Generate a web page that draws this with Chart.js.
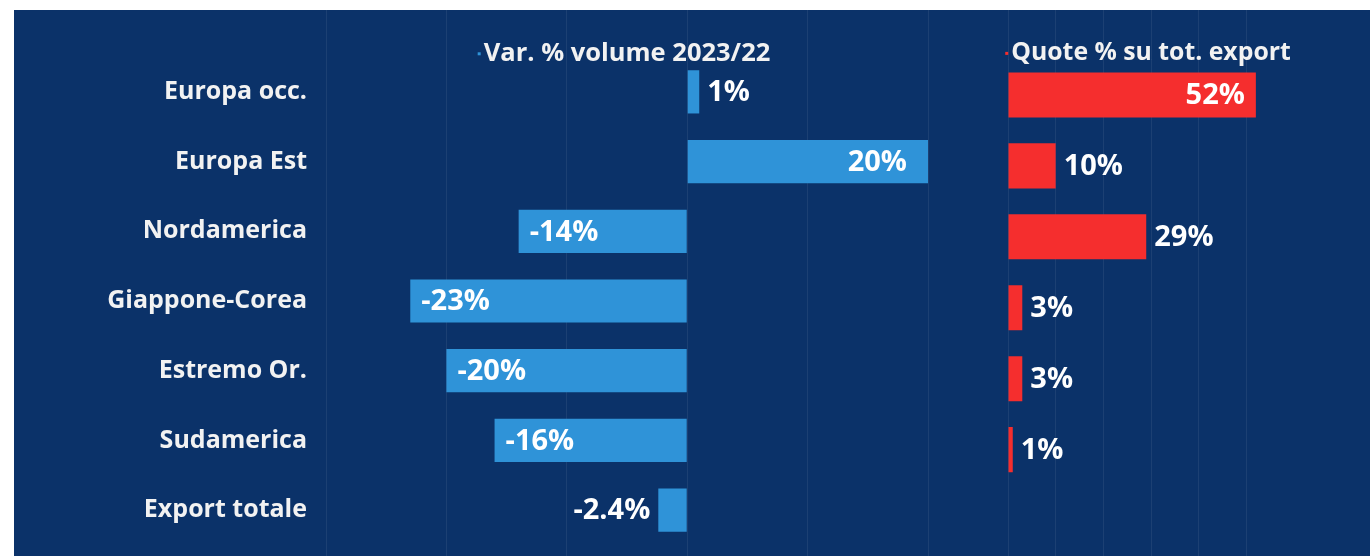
<!DOCTYPE html>
<html>
<head>
<meta charset="utf-8">
<script src="https://cdn.jsdelivr.net/npm/chart.js@4.4.1/dist/chart.umd.min.js"></script>
<style>
  html, body { margin: 0; padding: 0; background: #fff; }
  body { width: 1370px; height: 556px; position: relative; overflow: hidden; }
  #pannello { position: absolute; left: 14px; top: 10px; width: 1356px; height: 546px; background: #0b3269; }
  .box { position: absolute; top: 10px; height: 546px; }
  #boxVar { left: 14px; width: 946px; }
  #boxQuote { left: 960px; width: 410px; }
</style>
</head>
<body>
<div id="pannello"></div>
<div class="box" id="boxVar"><canvas id="graficoVar"></canvas></div>
<div class="box" id="boxQuote"><canvas id="graficoQuote"></canvas></div>

<script>
// DATI
const categorie = ['Europa occ.', 'Europa Est', 'Nordamerica', 'Giappone-Corea', 'Estremo Or.', 'Sudamerica', 'Export totale'];
const varVolume = [1, 20, -14, -23, -20, -16, -2.4];
const quoteExport = [52, 10, 29, 3, 3, 1, null];
const tickVar = [-30, -20, -10, 0, 10, 20];
const tickQuote = [0, 10, 20, 30, 40, 50];

const BLU = '#2f93d8';
const ROSSO = '#f52e2e';
const GRIGLIA = 'rgba(255,255,255,0.07)';
const TESTO = '#f2f2f2';

Chart.defaults.font.family = "'Open Sans', sans-serif";
Chart.defaults.font.weight = 'bold';
Chart.defaults.color = TESTO;

function formatta(v) {
    return (Number.isInteger(v) ? v : v.toFixed(1)) + '%';
}

// etichette valori sulle barre
const etichetteBarre = {
    id: 'etichetteBarre',
    afterDatasetsDraw(chart, args, opts) {
        const ctx = chart.ctx;
        const meta = chart.getDatasetMeta(0);
        const valori = chart.data.datasets[0].data;
        ctx.save();
        ctx.font = "bold 29px 'Open Sans'";
        ctx.fillStyle = '#ffffff';
        ctx.textBaseline = 'middle';
        meta.data.forEach((barra, i) => {
            const v = valori[i];
            if (v === null || v === undefined) return;
            const dir = v >= 0 ? 1 : -1;
            let x;
            if (Math.abs(v) >= opts.dentroDa) {
                ctx.textAlign = dir > 0 ? 'right' : 'left';
                x = barra.x - dir * (dir > 0 ? opts.margineDentro : 11);
            } else {
                ctx.textAlign = dir > 0 ? 'left' : 'right';
                x = barra.x + dir * 8;
            }
            ctx.fillText(formatta(v), x, barra.y + 1);
        });
        ctx.restore();
    }
};

// quadratino colorato davanti al titolo (come la legenda dell'originale)
const marcatoreTitolo = {
    id: 'marcatoreTitolo',
    afterDraw(chart) {
        const blocco = chart.titleBlock;
        if (!blocco) return;
        const ctx = chart.ctx;
        const font = blocco.options.font;
        ctx.save();
        ctx.font = 'bold ' + font.size + "px 'Open Sans'";
        const larg = ctx.measureText(blocco.options.text).width;
        const cx = (blocco.left + blocco.right) / 2;
        const cy = blocco.top + blocco.options.padding.top + font.size * 1.2 / 2;
        ctx.fillStyle = chart.data.datasets[0].backgroundColor;
        ctx.fillRect(cx - larg / 2 - 6, cy - 1, 3, 3);
        ctx.restore();
    }
};

function titolo(testo, dim) {
    return {
        display: true,
        text: testo,
        position: 'top',
        fullSize: false,
        color: TESTO,
        font: { size: dim, weight: 'bold' },
        padding: { top: 28, bottom: -28 - dim * 1.2 }
    };
}

// asse superiore vuoto: serve solo a prolungare la griglia fino al bordo alto
function asseSopra(min, max, valori, lung) {
    return {
        position: 'top',
        min: min,
        max: max,
        afterBuildTicks: (scala) => { scala.ticks = valori.map(v => ({ value: v })); },
        ticks: { display: false },
        grid: { color: GRIGLIA, drawOnChartArea: false, drawTicks: true, tickLength: lung },
        border: { display: false }
    };
}

// GRAFICO VARIAZIONE VOLUME
new Chart(document.getElementById('graficoVar'), {
    type: 'bar',
    data: {
        labels: categorie,
        datasets: [{
            label: 'Var. % volume 2023/22',
            data: varVolume,
            backgroundColor: BLU,
            borderWidth: 0,
            categoryPercentage: 1,
            barPercentage: 0.62
        }]
    },
    options: {
        indexAxis: 'y',
        responsive: true,
        maintainAspectRatio: false,
        animation: false,
        layout: { padding: { top: 0, bottom: 0, left: 0, right: 32 } },
        plugins: {
            legend: { display: false },
            title: titolo('Var. % volume 2023/22', 25.5),
            tooltip: { enabled: false },
            etichetteBarre: { dentroDa: 10, margineDentro: 21 }
        },
        scales: {
            x: {
                min: -30,
                max: 20,
                afterBuildTicks: (scala) => { scala.ticks = tickVar.map(v => ({ value: v })); },
                ticks: { display: false },
                grid: { color: GRIGLIA, drawTicks: true, tickLength: 11 },
                border: { display: false }
            },
            xSopra: asseSopra(-30, 20, tickVar, 47),
            y: {
                afterFit: (scala) => {
                    scala.width = 312;
                    scala.paddingTop = 0;
                    scala.paddingBottom = 0;
                },
                ticks: { padding: 19, color: TESTO, font: { size: 25, weight: 'bold' } },
                grid: { display: false, drawTicks: false },
                border: { display: false }
            }
        }
    },
    plugins: [etichetteBarre, marcatoreTitolo]
});

// GRAFICO QUOTE EXPORT
new Chart(document.getElementById('graficoQuote'), {
    type: 'bar',
    data: {
        labels: categorie,
        datasets: [{
            label: 'Quote % su tot. export',
            data: quoteExport,
            backgroundColor: ROSSO,
            borderWidth: 0,
            categoryPercentage: 1,
            barPercentage: 0.635
        }]
    },
    options: {
        indexAxis: 'y',
        responsive: true,
        maintainAspectRatio: false,
        animation: false,
        layout: { padding: { top: 0, bottom: 0, left: 48, right: 76 } },
        plugins: {
            legend: { display: false },
            title: titolo('Quote % su tot. export', 24.8),
            tooltip: { enabled: false },
            etichetteBarre: { dentroDa: 40, margineDentro: 11 }
        },
        scales: {
            x: {
                min: 0,
                max: 60,
                afterBuildTicks: (scala) => { scala.ticks = tickQuote.map(v => ({ value: v })); },
                ticks: { display: false },
                grid: { color: GRIGLIA, drawTicks: false },
                border: { display: false }
            },
            xSopra: asseSopra(0, 60, tickQuote, 49.5),
            y: {
                display: false
            }
        }
    },
    plugins: [etichetteBarre, marcatoreTitolo]
});
</script>
</body>
</html>
